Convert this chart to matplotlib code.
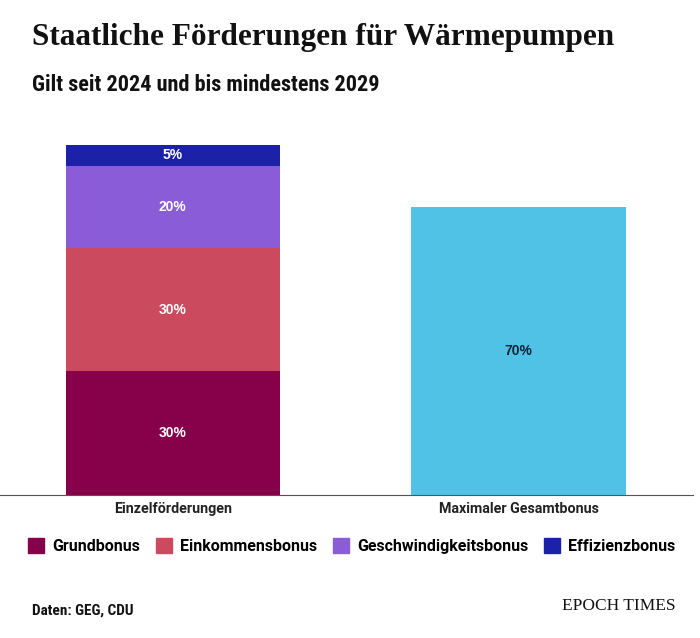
import matplotlib
matplotlib.use("Agg")
import matplotlib.pyplot as plt
from matplotlib.patches import Rectangle
from matplotlib import font_manager as fm

categories = ["Einzelförderungen", "Maximaler Gesamtbonus"]
components = ["Grundbonus", "Einkommensbonus", "Geschwindigkeitsbonus", "Effizienzbonus"]
component_values = [30, 30, 20, 5]  # stacked on "Einzelförderungen"
total_value = 70                     # "Maximaler Gesamtbonus"
colors = ["#86004A", "#CB4A5D", "#8A5CD8", "#1C22A8"]
total_color = "#4FC2E5"

def pick(names):
    avail = {f.name for f in fm.fontManager.ttflist}
    for n in names:
        if n in avail:
            return n
    return "DejaVu Sans"

narrow = pick(["Roboto Condensed", "Liberation Sans Narrow", "Roboto", "DejaVu Sans"])
sans = pick(["Roboto", "Liberation Sans", "DejaVu Sans"])
helv = pick(["Liberation Sans", "DejaVu Sans"])
serif = pick(["Liberation Serif", "DejaVu Serif"])

fig = plt.figure(figsize=(7, 6.38), dpi=100)
ax = fig.add_axes([0, (638 - 495) / 638, 693 / 700, 350 / 638])
ax.set_xlim(-0.5, 1.505)
ax.set_ylim(0, 85)

width = 0.62
bottom = 0
for name, val, col in zip(components, component_values, colors):
    ax.bar(0, val, width, bottom=bottom, color=col, label=name)
    ax.text(0, bottom + val / 2, f"{val}%", ha="center", va="center",
            color="white", fontsize=10, fontweight="bold", family=helv)
    bottom += val
ax.bar(1, total_value, width, color=total_color)
ax.text(1, total_value / 2, f"{total_value}%", ha="center", va="center",
        color="#0E2238", fontsize=10, fontweight="bold", family=helv)

for s in ["top", "right", "left"]:
    ax.spines[s].set_visible(False)
ax.spines["bottom"].set_color("#555555")
ax.spines["bottom"].set_linewidth(0.8)
ax.set_yticks([])
ax.set_xticks([0, 1])
ax.set_xticklabels(categories, fontsize=10.3, fontweight="bold", family=sans, color="#222222")
ax.tick_params(axis="x", length=0, pad=5)

fig.text(32 / 700, 1 - 38 / 638, "Staatliche Förderungen für Wärmepumpen",
         fontsize=22.5, fontweight="bold", family=serif, va="center", ha="left", color="#111111")
fig.text(32 / 700, 1 - 85 / 638, "Gilt seit 2024 und bis mindestens 2029",
         fontsize=16, fontweight="bold", family=narrow, va="center", ha="left", color="#111111")

handles = [Rectangle((0, 0), 1, 1, color=c) for c in colors]
fig.legend(handles, components, loc="center left", bbox_to_anchor=(28 / 700, 1 - 546 / 638),
           ncol=4, frameon=False, prop={"family": sans, "weight": "bold", "size": 11.5},
           handlelength=1.0, handleheight=1.1, handletextpad=0.5, columnspacing=1.0,
           borderaxespad=0, borderpad=0)

fig.text(32 / 700, 1 - 611 / 638, "Daten: GEG, CDU", fontsize=11, fontweight="bold",
         family=narrow, va="center", ha="left", color="#111111")
fig.text(676 / 700, 1 - 606 / 638, "EPOCH TIMES", fontsize=12.5, family=serif,
         va="center", ha="right", color="#111111")

fig.savefig("out.png", dpi=100, facecolor="white")
